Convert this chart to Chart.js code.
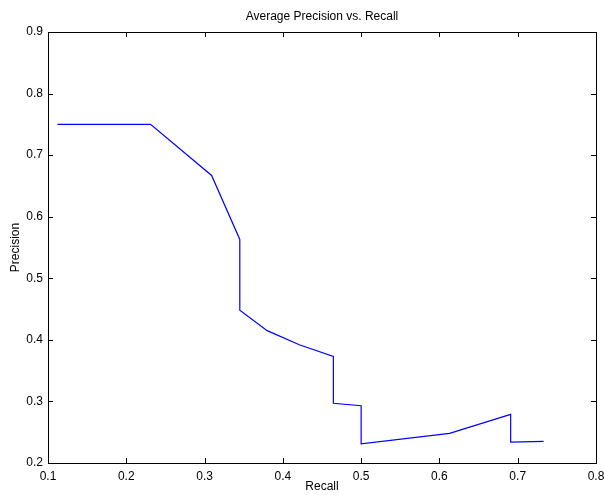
<!DOCTYPE html>
<html>
<head>
<meta charset="utf-8">
<script src="https://cdn.jsdelivr.net/npm/chart.js@4"></script>
<style>
  html, body { margin: 0; padding: 0; background: #fff; }
  #wrap { width: 604px; height: 495px; }
</style>
</head>
<body>
<div id="wrap"><canvas id="prChart" width="604" height="495"></canvas></div>
<script>
const recall = [0.112, 0.231, 0.309, 0.345, 0.345, 0.380, 0.421, 0.4645, 0.4645, 0.500, 0.500, 0.613, 0.691, 0.691, 0.733];
const precision = [0.750, 0.750, 0.667, 0.563, 0.448, 0.415, 0.392, 0.373, 0.297, 0.293, 0.231, 0.248, 0.279, 0.234, 0.235];
const xTicks = [0.1, 0.2, 0.3, 0.4, 0.5, 0.6, 0.7, 0.8];
const yTicks = [0.2, 0.3, 0.4, 0.5, 0.6, 0.7, 0.8, 0.9];
const titleText = 'Average Precision vs. Recall';
const xLabel = 'Recall';
const yLabel = 'Precision';

const FONT = 'Liberation Sans, Arial, Helvetica, sans-serif';

// matlab-style box with inward ticks plus the texts
const matlabBox = {
  id: 'matlabBox',
  afterDraw(chart) {
    const { ctx, chartArea: a, scales } = chart;
    ctx.save();
    ctx.strokeStyle = '#000';
    ctx.lineWidth = 1;
    ctx.strokeRect(Math.round(a.left) + 0.5, Math.round(a.top) + 0.5,
      Math.round(a.right - a.left), Math.round(a.bottom - a.top));
    const len = 5;
    ctx.beginPath();
    xTicks.forEach(v => {
      const px = Math.round(scales.x.getPixelForValue(v)) + 0.5;
      ctx.moveTo(px, a.bottom); ctx.lineTo(px, a.bottom - len);
      ctx.moveTo(px, a.top); ctx.lineTo(px, a.top + len);
    });
    yTicks.forEach(v => {
      const py = Math.round(scales.y.getPixelForValue(v)) + 0.5;
      ctx.moveTo(a.left, py); ctx.lineTo(a.left + len, py);
      ctx.moveTo(a.right, py); ctx.lineTo(a.right - len, py);
    });
    ctx.stroke();

    ctx.fillStyle = '#000';
    ctx.font = '12px ' + FONT;
    ctx.textAlign = 'center';
    ctx.textBaseline = 'middle';
    ctx.fillText(titleText, (a.left + a.right) / 2, 17);
    ctx.fillText(xLabel, (a.left + a.right) / 2, 487);
    ctx.translate(16, (a.top + a.bottom) / 2);
    ctx.rotate(-Math.PI / 2);
    ctx.fillText(yLabel, 0, 0);
    ctx.restore();
  }
};

const ctx = document.getElementById('prChart').getContext('2d');
const chart = new Chart(ctx, {
  type: 'scatter',
  data: {
    datasets: [{
      label: 'AP',
      data: recall.map((r, i) => ({ x: r, y: precision[i] })),
      showLine: true,
      borderColor: '#0000ff',
      borderWidth: 1.2,
      pointRadius: 0,
      fill: false,
      tension: 0
    }]
  },
  options: {
    responsive: false,
    animation: false,
    layout: { padding: { top: 32, right: 0, bottom: 0, left: 0 } },
    plugins: { legend: { display: false }, tooltip: { enabled: false }, title: { display: false } },
    scales: {
      x: {
        type: 'linear', min: 0.1, max: 0.8,
        afterBuildTicks: s => { s.ticks = xTicks.map(v => ({ value: v })); },
        afterFit: s => { s.height = 32; s.paddingRight = 8; },
        grid: { display: false, drawTicks: false },
        border: { display: false },
        ticks: { color: '#000', font: { family: FONT, size: 12 }, padding: 6, maxRotation: 0,
          callback: v => v.toFixed(1) }
      },
      y: {
        type: 'linear', min: 0.2, max: 0.9,
        afterBuildTicks: s => { s.ticks = yTicks.map(v => ({ value: v })); },
        afterFit: s => { s.width = 48; },
        grid: { display: false, drawTicks: false },
        border: { display: false },
        ticks: { color: '#000', font: { family: FONT, size: 12 }, padding: 5,
          callback: v => v.toFixed(1) }
      }
    }
  },
  plugins: [matlabBox]
});
</script>
</body>
</html>
